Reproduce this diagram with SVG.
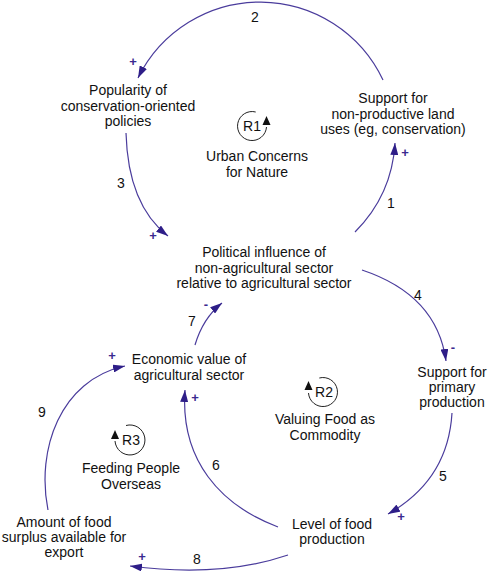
<svg xmlns="http://www.w3.org/2000/svg" width="490" height="575" viewBox="0 0 490 575">
<style>
  .t { font-family: "Liberation Sans", Arial, sans-serif; font-size: 14px; fill: #111; text-anchor: middle; }
  .s { font-family: "Liberation Sans", Arial, sans-serif; font-size: 13px; fill: #3a2a90; text-anchor: middle; font-weight: bold; }
  .c { fill: none; stroke: #4a3c9c; stroke-width: 1.2; marker-end: url(#ah); }
  .lp { fill: none; stroke: #222; stroke-width: 1; }
  .la { fill: #111; }
</style>
<defs>
  <marker id="ah" viewBox="0 0 12 8" refX="12" refY="4" markerWidth="12" markerHeight="8" orient="auto" markerUnits="userSpaceOnUse">
    <path d="M0,0 L12,4 L0,8 z" fill="#2e1e88"/>
  </marker>
</defs>
<rect width="490" height="575" fill="#fff"/>

<g id="connectors">
  <path class="c" d="M383,80 A136,136 0 0 0 138,78"/>
  <path class="c" d="M126,133 Q128,205 168,236"/>
  <path class="c" d="M355,232 Q392,195 395,143"/>
  <path class="c" d="M362,270 Q437,295 446,361"/>
  <path class="c" d="M452,413 Q448,480 388,514"/>
  <path class="c" d="M288,555 Q220,578 130,566"/>
  <path class="c" d="M48,510 C36,450 60,380 125,366"/>
  <path class="c" d="M278,527 C220,505 180,460 185,390"/>
  <path class="c" d="M195,345 Q203,318 222,303"/>
  <text class="t" x="255" y="22">2</text>
  <text class="t" x="121" y="188">3</text>
  <text class="t" x="391" y="208">1</text>
  <text class="t" x="418" y="300">4</text>
  <text class="t" x="443" y="481">5</text>
  <text class="t" x="216" y="470">6</text>
  <text class="t" x="192" y="326">7</text>
  <text class="t" x="197" y="564">8</text>
  <text class="t" x="42" y="417">9</text>
  <text class="s" x="133" y="66">+</text>
  <text class="s" x="153" y="240">+</text>
  <text class="s" x="405" y="157">+</text>
  <text class="s" x="453" y="352">-</text>
  <text class="s" x="401" y="521">+</text>
  <text class="s" x="142" y="561">+</text>
  <text class="s" x="112" y="360">+</text>
  <text class="s" x="195" y="402">+</text>
  <text class="s" x="206" y="309">-</text>
</g>

<g id="popularity">
  <text class="t" x="128" y="95">Popularity of</text>
  <text class="t" x="128" y="110.5">conservation-oriented</text>
  <text class="t" x="128" y="126">policies</text>
</g>
<g id="support-nonproductive">
  <text class="t" x="393" y="103">Support for</text>
  <text class="t" x="393" y="118.5">non-productive land</text>
  <text class="t" x="393" y="134">uses (eg, conservation)</text>
</g>
<g id="political-influence">
  <text class="t" x="264" y="257">Political influence of</text>
  <text class="t" x="264" y="272.5">non-agricultural sector</text>
  <text class="t" x="264" y="288">relative to agricultural sector</text>
</g>
<g id="economic-value">
  <text class="t" x="189" y="364">Economic value of</text>
  <text class="t" x="189" y="379.5">agricultural sector</text>
</g>
<g id="support-primary">
  <text class="t" x="452" y="377">Support for</text>
  <text class="t" x="452" y="392">primary</text>
  <text class="t" x="452" y="407">production</text>
</g>
<g id="level-food">
  <text class="t" x="332" y="529">Level of food</text>
  <text class="t" x="332" y="544">production</text>
</g>
<g id="amount-surplus">
  <text class="t" x="64" y="527">Amount of food</text>
  <text class="t" x="64" y="542">surplus available for</text>
  <text class="t" x="64" y="557">export</text>
</g>

<g id="loop-R1">
  <path class="lp" d="M255.7,112 A14.5,14.5 0 1 0 266.5,127"/>
  <path class="la" d="M266.5,116 L262.5,125 L270.5,125 z"/>
  <text class="t" x="252" y="131">R1</text>
  <text class="t" x="257" y="161">Urban Concerns</text>
  <text class="t" x="257" y="177">for Nature</text>
</g>
<g id="loop-R2">
  <path class="lp" d="M319.3,378 A14.5,14.5 0 1 1 308.5,393"/>
  <path class="la" d="M308.5,381 L304.5,390 L312.5,390 z"/>
  <text class="t" x="324" y="397">R2</text>
  <text class="t" x="325" y="424">Valuing Food as</text>
  <text class="t" x="325" y="440">Commodity</text>
</g>
<g id="loop-R3">
  <path class="lp" d="M126,425.5 A15,15 0 1 1 115,441"/>
  <path class="la" d="M115,430 L111,439 L119,439 z"/>
  <text class="t" x="131" y="445">R3</text>
  <text class="t" x="131" y="473">Feeding People</text>
  <text class="t" x="131" y="489">Overseas</text>
</g>
</svg>
